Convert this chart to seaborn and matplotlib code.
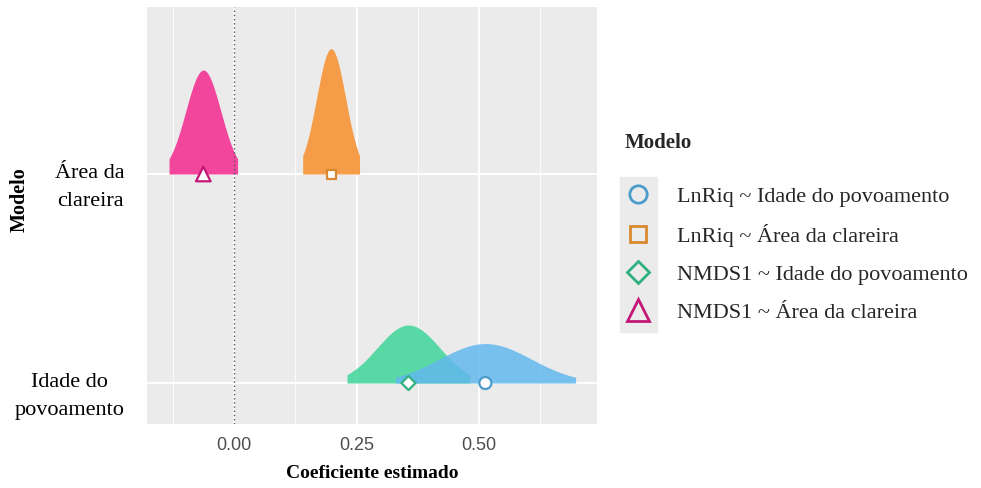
import numpy as np
import pandas as pd
import matplotlib
matplotlib.use('Agg')
import matplotlib.pyplot as plt
import matplotlib.transforms as mtransforms
from matplotlib.lines import Line2D
from matplotlib.patches import Rectangle
import seaborn as sns

# dados
modelos = ['LnRiq ~ Idade do povoamento', 'LnRiq ~ Área da clareira',
           'NMDS1 ~ Idade do povoamento', 'NMDS1 ~ Área da clareira']
preditores = ['Idade do povoamento', 'Área da clareira',
              'Idade do povoamento', 'Área da clareira']
estimativas = [0.513, 0.198, 0.356, -0.063]
erros_padrao = [0.094, 0.0296, 0.064, 0.0357]
categorias_y = ['Idade do povoamento', 'Área da clareira']
rotulos_y = ['Idade do\npovoamento', 'Área da\nclareira']
ticks_x = [0.0, 0.25, 0.5]

cores_fill = ['#63B8EE', '#F5983F', '#3DD598', '#F23D98']
cores_borda = ['#4B9BCB', '#D9882F', '#2FB07E', '#C21777']
marcadores = ['o', 's', 'D', '^']
tamanhos = [75, 42, 51, 110]

df = pd.DataFrame({'Modelo': modelos, 'Preditor': preditores,
                   'Estimativa': estimativas, 'EP': erros_padrao})
df['y'] = df['Preditor'].map({c: i for i, c in enumerate(categorias_y)})

sns.set_theme(style='darkgrid', rc={'axes.facecolor': '#EBEBEB'})
serif = ['Liberation Serif', 'DejaVu Serif']
plt.rcParams['font.family'] = ['Liberation Sans', 'DejaVu Sans']

fig = plt.figure(figsize=(9.81, 4.88), dpi=100)
ax = fig.add_axes([147 / 981, 64 / 488, 450 / 981, 417 / 488])

escala = 0.0445
for i in [1, 3, 2, 0]:
    r = df.iloc[i]
    xs = np.linspace(r.Estimativa - 1.96 * r.EP, r.Estimativa + 1.96 * r.EP, 200)
    dens = np.exp(-0.5 * ((xs - r.Estimativa) / r.EP) ** 2) / (r.EP * np.sqrt(2 * np.pi))
    ax.fill_between(xs, r.y, r.y + dens * escala, color=cores_fill[i],
                    alpha=0.85 if i in (0, 2) else 0.95, lw=0, zorder=2)

ax.axvline(0, color='#555555', ls=(0, (1, 2)), lw=1, zorder=3)

sns.scatterplot(data=df, x='Estimativa', y='y', hue='Modelo', style='Modelo',
                size='Modelo', sizes=dict(zip(modelos, tamanhos)),
                markers=dict(zip(modelos, marcadores)),
                palette=dict(zip(modelos, cores_borda)),
                linewidth=1.6, legend=False, zorder=5, ax=ax)
pts = ax.collections[-1]
pts.set_edgecolors(pts.get_facecolors())
pts.set_facecolors('white')

ax.set_xlim(-0.178, 0.741)
ax.set_ylim(-0.196, 1.799)
ax.set_xticks(ticks_x)
ax.set_xticklabels(['0.00', '0.25', '0.50'])
ax.set_xticks([-0.125, 0.125, 0.375, 0.625], minor=True)
ax.set_yticks([0, 1])
ax.grid(which='major', color='white', lw=1.3)
ax.grid(which='minor', axis='x', color='white', lw=0.6)
ax.tick_params(axis='x', which='major', length=3, width=1, color='#333333',
               labelsize=13, labelcolor='#4D4D4D', pad=6)
ax.tick_params(axis='y', length=2, width=1, color='#333333', pad=14)
ax.tick_params(which='minor', length=0)
ax.set_yticklabels(rotulos_y, family=serif, fontsize=16, color='black',
                   multialignment='center', linespacing=1.65)
desloc = mtransforms.ScaledTranslation(0, -6 / 100, fig.dpi_scale_trans)
for lab in ax.get_yticklabels():
    lab.set_transform(lab.get_transform() + desloc)
for s in ax.spines.values():
    s.set_visible(False)

ax.set_xlabel('Coeficiente estimado', family=serif, fontsize=14,
              fontweight='bold', color='black', labelpad=8)
ax.set_ylabel('Modelo', family=serif, fontsize=14.5, fontweight='bold',
              color='black')
ax.yaxis.set_label_coords(-0.26, 0.537)

# legenda
fig.text(625 / 981, 1 - 143 / 488, 'Modelo', family=serif, fontsize=15,
         fontweight='bold', va='center', ha='left')
fig.patches.append(Rectangle((620 / 981, 1 - 332 / 488), 37 / 981, 155 / 488,
                             transform=fig.transFigure, color='#EBEBEB',
                             zorder=0))
handles = [Line2D([], [], ls='', marker=m, markersize=ms, markerfacecolor='none',
                  markeredgecolor=c, markeredgewidth=2)
           for m, ms, c in zip(marcadores, [12.5, 12, 11, 15.5], cores_borda)]
leg = fig.legend(handles, modelos, loc='upper left',
                 bbox_to_anchor=(620 / 981, 1 - 186 / 488), frameon=False,
                 prop={'family': serif, 'size': 16}, handlelength=1.6,
                 handletextpad=0.95, labelspacing=0.78, borderpad=0,
                 borderaxespad=0)

fig.savefig('out.png', dpi=100)
